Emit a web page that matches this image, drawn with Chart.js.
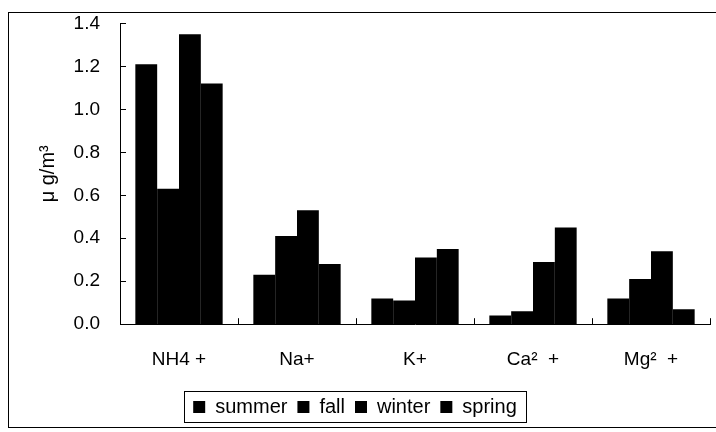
<!DOCTYPE html>
<html>
<head>
<meta charset="utf-8">
<script src="https://cdn.jsdelivr.net/npm/chart.js@4"></script>
<style>
html,body{margin:0;padding:0;background:#fff;}
#wrap{width:716px;height:432px;position:relative;}
</style>
</head>
<body>
<div id="wrap"><canvas id="c" width="716" height="432"></canvas></div>
<script>
const categories = ["NH4 +", "Na+", "K+", "Ca\u00B2  +", "Mg\u00B2  +"];
const summer = [1.21, 0.23, 0.12, 0.04, 0.12];
const fall   = [0.63, 0.41, 0.11, 0.06, 0.21];
const winter = [1.35, 0.53, 0.31, 0.29, 0.34];
const spring = [1.12, 0.28, 0.35, 0.45, 0.07];
const seriesNames = ["summer", "fall", "winter", "spring"];
const yTicks = [0, 0.2, 0.4, 0.6, 0.8, 1.0, 1.2, 1.4];

const FONT = "'Liberation Sans', Arial, sans-serif";

const decor = {
  id: 'decor',
  beforeDraw(chart) {
    const ctx = chart.ctx;
    ctx.save();
    ctx.strokeStyle = '#000';
    ctx.lineWidth = 1;
    ctx.strokeRect(8.5, 12.5, 720, 415);
    ctx.restore();
  },
  afterDraw(chart) {
    const ctx = chart.ctx;
    const xs = chart.scales.x, ys = chart.scales.y;
    ctx.save();
    ctx.strokeStyle = '#000';
    ctx.lineWidth = 1;
    ys.ticks.forEach((t, i) => {
      const y = Math.round(ys.getPixelForTick(i)) + 0.5;
      ctx.beginPath();
      ctx.moveTo(xs.left, y);
      ctx.lineTo(xs.left + 6, y);
      ctx.stroke();
    });
    for (let i = 0; i < categories.length; i++) {
      const x = Math.round((xs.getPixelForValue(i) + xs.getPixelForValue(i + 1)) / 2) + 0.5;
      ctx.beginPath();
      ctx.moveTo(x, ys.bottom);
      ctx.lineTo(x, ys.bottom - 6);
      ctx.stroke();
    }
    const lg = chart.legend;
    if (lg && lg.legendHitBoxes && lg.legendHitBoxes.length) {
      const hb = lg.legendHitBoxes;
      const l = hb[0].left - 9;
      const last = hb[hb.length - 1];
      const r = last.left + last.width + 9;
      const t = hb[0].top - 6;
      const b = hb[0].top + hb[0].height + 5;
      ctx.strokeRect(Math.round(l) + 0.5, Math.round(t) + 0.5, Math.round(r - l), Math.round(b - t));
    }
    ctx.restore();
  }
};

const datasets = [summer, fall, winter, spring].map((d, i) => ({
  label: seriesNames[i],
  data: d,
  backgroundColor: '#000',
  borderWidth: 0,
  categoryPercentage: 0.74,
  barPercentage: 1.0
}));

new Chart(document.getElementById('c'), {
  type: 'bar',
  data: { labels: categories, datasets },
  plugins: [decor],
  options: {
    responsive: false,
    animation: false,
    devicePixelRatio: 1,
    layout: { padding: { left: 0, right: 6, top: 0, bottom: 5 } },
    plugins: {
      tooltip: { enabled: false },
      legend: {
        position: 'bottom',
        labels: {
          color: '#000',
          font: { family: FONT, size: 20 },
          boxWidth: 12,
          boxHeight: 12,
          padding: 10
        }
      }
    },
    scales: {
      x: {
        grid: { display: false },
        border: { display: true, color: '#000', width: 1 },
        ticks: { color: '#000', font: { family: FONT, size: 19 }, padding: 16, maxRotation: 0 }
      },
      y: {
        min: 0, max: 1.4,
        afterFit(s) { s.width = 120; },
        afterBuildTicks(s) { s.ticks = yTicks.map(v => ({ value: v })); },
        grid: { display: false },
        border: { display: true, color: '#000', width: 1 },
        ticks: {
          color: '#000', font: { family: FONT, size: 19 }, padding: 12,
          callback: v => Number(v).toFixed(1)
        },
        title: {
          display: true, text: '\u03BC g/m\u00B3', color: '#000',
          font: { family: FONT, size: 20 }, padding: { top: 36, bottom: 0 }
        }
      }
    }
  }
});
</script>
</body>
</html>
